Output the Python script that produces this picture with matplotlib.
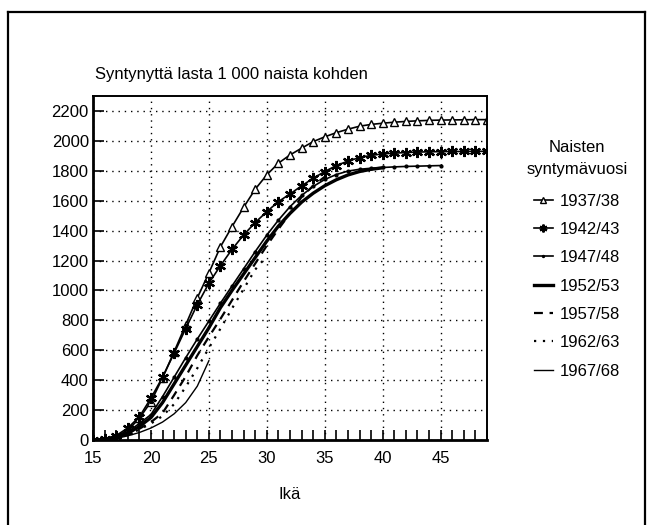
import matplotlib
matplotlib.use("Agg")
import matplotlib.pyplot as plt
from matplotlib.lines import Line2D

plt.rcParams['font.family'] = ['Liberation Sans', 'DejaVu Sans']

# cumulative births per 1000 women, by age, per birth cohort
ages_1937 = list(range(15, 50))
vals_1937 = [0, 5, 25, 65, 145, 255, 415, 590, 770, 950, 1117, 1292, 1427, 1556,
             1677, 1773, 1851, 1906, 1951, 1995, 2027, 2055, 2078, 2098, 2110,
             2118, 2125, 2130, 2134, 2137, 2139, 2140, 2141, 2142, 2142]
ages_1942 = list(range(15, 50))
vals_1942 = [0, 8, 30, 80, 155, 280, 420, 580, 745, 905, 1048, 1166, 1275, 1371,
             1454, 1527, 1594, 1645, 1699, 1750, 1795, 1835, 1865, 1888, 1903,
             1913, 1918, 1922, 1925, 1927, 1928, 1929, 1929, 1930, 1930]
ages_1947 = list(range(15, 46))
vals_1947 = [0, 5, 20, 55, 110, 170, 290, 420, 550, 675, 795, 915, 1030, 1145,
             1260, 1370, 1470, 1560, 1635, 1695, 1742, 1775, 1798, 1810, 1817,
             1822, 1826, 1829, 1831, 1833, 1835]
ages_1952 = list(range(15, 41))
vals_1952 = [0, 3, 15, 45, 90, 150, 250, 375, 500, 625, 750, 885, 1000, 1110,
             1220, 1330, 1430, 1515, 1590, 1650, 1700, 1740, 1772, 1795, 1810, 1820]
ages_1957 = list(range(15, 36))
vals_1957 = [0, 2, 10, 35, 75, 120, 180, 300, 425, 565, 690, 810, 935, 1060,
             1180, 1300, 1410, 1515, 1625, 1700, 1760]
ages_1962 = list(range(15, 31))
vals_1962 = [0, 1, 10, 35, 70, 110, 160, 240, 355, 480, 615, 745, 880, 1010, 1140, 1230]
ages_1967 = list(range(15, 26))
vals_1967 = [0, 2, 10, 28, 50, 80, 120, 175, 250, 360, 530]

labels = ['1937/38', '1942/43', '1947/48', '1952/53', '1957/58', '1962/63', '1967/68']

fig = plt.figure(figsize=(6.5, 5.25), dpi=100)
ax = fig.add_axes([93/650, 85/525, 394/650, 344/525])

ax.plot(ages_1937, vals_1937, color='black', lw=1.2, marker='^', ms=6,
        mfc='white', mec='black', mew=1.0, label=labels[0])
ax.plot(ages_1942, vals_1942, color='black', lw=1.2, marker=(6, 2, 0), ms=8,
        mec='black', mew=1.6, label=labels[1])
ax.plot(ages_1947, vals_1947, color='black', lw=1.2, marker='.', ms=4, label=labels[2])
ax.plot(ages_1952, vals_1952, color='black', lw=2.4, label=labels[3])
ax.plot(ages_1957, vals_1957, color='black', lw=1.6, ls=(0, (4, 3)), label=labels[4])
ax.plot(ages_1962, vals_1962, color='black', lw=1.6, ls=(0, (1, 3)), label=labels[5])
ax.plot(ages_1967, vals_1967, color='black', lw=1.0, label=labels[6])

ax.set_xlim(15, 49)
ax.set_ylim(0, 2300)
ax.set_xticks(range(15, 50, 5))
ax.set_xticks(range(15, 50), minor=True)
ax.set_yticks(range(0, 2201, 200))
ax.tick_params(axis='x', which='both', direction='in', length=7, width=1.2,
               labelsize=12, pad=8)
ax.tick_params(axis='y', direction='in', length=8, width=1.2, labelsize=12, pad=3)
ax.grid(True, which='major', color='black', lw=1.0, ls=(0, (1, 3.5)))
for side in ['left', 'bottom']:
    ax.spines[side].set_linewidth(2.0)
for side in ['top', 'right']:
    ax.spines[side].set_linewidth(1.4)

ax.set_xlabel('Ikä', fontsize=12, labelpad=15)
fig.text(95/650, 1 - 75/525, 'Syntynyttä lasta 1 000 naista kohden', fontsize=12,
         ha='left', va='center')

leg = ax.legend(loc='upper left', bbox_to_anchor=(518/650, 1 - 132/525),
                bbox_transform=fig.transFigure, frameon=False, fontsize=12,
                title='Naisten\nsyntymävuosi', title_fontsize=12,
                handlelength=1.1, handletextpad=0.4, labelspacing=0.8,
                markerscale=0.7, borderpad=0)
leg.get_title().set_multialignment('center')
leg.get_title().set_linespacing(1.55)
leg._legend_box.sep = 12

# outer frame of the figure
fig.add_artist(Line2D([8/650, 8/650], [0, 1 - 12/525], color='black', lw=1.6,
                      transform=fig.transFigure))
fig.add_artist(Line2D([8/650, 645/650], [1 - 12/525, 1 - 12/525], color='black',
                      lw=1.6, transform=fig.transFigure))
fig.add_artist(Line2D([645/650, 645/650], [0, 1 - 12/525], color='black', lw=1.6,
                      transform=fig.transFigure))

fig.savefig('out.png', dpi=100)
